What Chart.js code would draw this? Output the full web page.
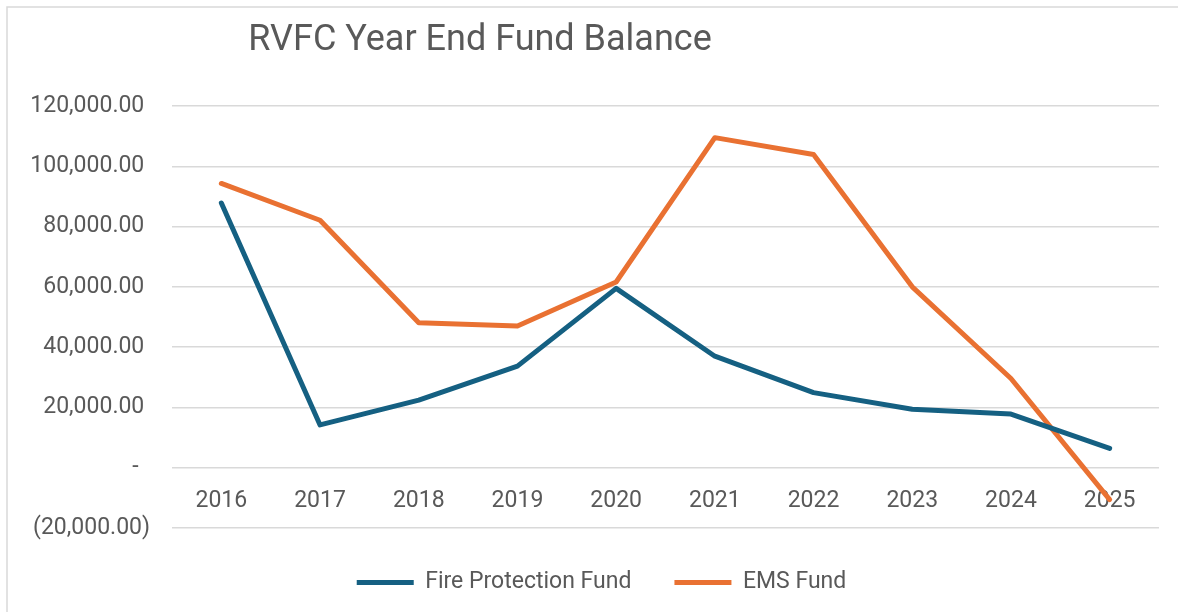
<!DOCTYPE html>
<html>
<head>
<meta charset="utf-8">
<script src="https://cdn.jsdelivr.net/npm/chart.js@4/dist/chart.umd.min.js"></script>
<style>
  html, body { margin: 0; padding: 0; background: #ffffff; }
  #wrap { width: 1178px; height: 612px; }
</style>
</head>
<body>
<div id="wrap"><canvas id="c" width="1178" height="612"></canvas></div>
<script>
const chartTitle = 'RVFC Year End Fund Balance';
const years = ['2016', '2017', '2018', '2019', '2020', '2021', '2022', '2023', '2024', '2025'];
const fireProtectionFund = [87800, 14200, 22400, 33700, 59500, 37000, 24900, 19400, 17800, 6400];
const emsFund = [94300, 82100, 48100, 47000, 61600, 109500, 103900, 60000, 29600, -10600];
const yTickValues = [-20000, 0, 20000, 40000, 60000, 80000, 100000, 120000];
const yTickLabels = ['(20,000.00)', '-  ', '20,000.00 ', '40,000.00 ', '60,000.00 ', '80,000.00 ', '100,000.00 ', '120,000.00 '];

const FONT = 'Roboto, "Liberation Sans", sans-serif';
const TEXT = '#595959';

const framePlugin = {
  id: 'frame',
  afterLayout(chart) {
    if (chart.legend) {
      chart.legend.left += 22;
      chart.legend.right += 22;
    }
  },
  beforeDraw(chart) {
    const ctx = chart.ctx;
    ctx.save();
    ctx.fillStyle = '#ffffff';
    ctx.fillRect(0, 0, chart.width, chart.height);
    ctx.strokeStyle = '#d9d9d9';
    ctx.lineWidth = 1.5;
    ctx.strokeRect(7, 7, chart.width + 50, chart.height + 50);
    ctx.restore();
  },
  afterDraw(chart) {
    const ctx = chart.ctx;
    ctx.save();
    ctx.fillStyle = TEXT;
    ctx.font = '36px ' + FONT;
    ctx.textAlign = 'center';
    ctx.textBaseline = 'alphabetic';
    ctx.fillText(chartTitle, 480, 50);
    ctx.restore();
  }
};

new Chart(document.getElementById('c'), {
  type: 'line',
  data: {
    labels: years,
    datasets: [
      {
        label: 'Fire Protection Fund',
        data: fireProtectionFund,
        borderColor: '#156082',
        backgroundColor: '#156082',
        borderWidth: 5,
        pointRadius: 0,
        tension: 0,
        fill: false,
        borderCapStyle: 'round',
        borderJoinStyle: 'round'
      },
      {
        label: 'EMS Fund',
        data: emsFund,
        borderColor: '#E97132',
        backgroundColor: '#E97132',
        borderWidth: 5,
        pointRadius: 0,
        tension: 0,
        fill: false,
        borderCapStyle: 'round',
        borderJoinStyle: 'round'
      }
    ]
  },
  options: {
    responsive: false,
    animation: false,
    devicePixelRatio: 1,
    layout: { padding: { left: 0, right: 19, top: 106, bottom: 8 } },
    plugins: {
      title: { display: false },
      tooltip: { enabled: false },
      legend: {
        position: 'bottom',
        labels: {
          usePointStyle: true,
          pointStyle: 'line',
          pointStyleWidth: 57,
          padding: 43,
          color: TEXT,
          font: { family: FONT, size: 23 }
        }
      }
    },
    scales: {
      x: {
        type: 'category',
        offset: true,
        position: { y: 0 },
        grid: { display: false, drawTicks: false },
        border: { display: false },
        ticks: {
          color: TEXT,
          font: { family: FONT, size: 23 },
          padding: 20,
          maxRotation: 0,
          autoSkip: false
        }
      },
      y: {
        min: -20000,
        max: 120000,
        afterBuildTicks(scale) {
          scale.ticks = yTickValues.map(v => ({ value: v }));
        },
        afterFit(scale) { scale.width = 172; },
        grid: { color: '#d9d9d9', lineWidth: 1.5, drawTicks: false },
        border: { display: false },
        ticks: {
          color: TEXT,
          font: { family: FONT, size: 23 },
          padding: 22,
          callback(value) {
            const i = yTickValues.indexOf(value);
            return i >= 0 ? yTickLabels[i] : '';
          }
        }
      }
    }
  },
  plugins: [framePlugin]
});
</script>
</body>
</html>
